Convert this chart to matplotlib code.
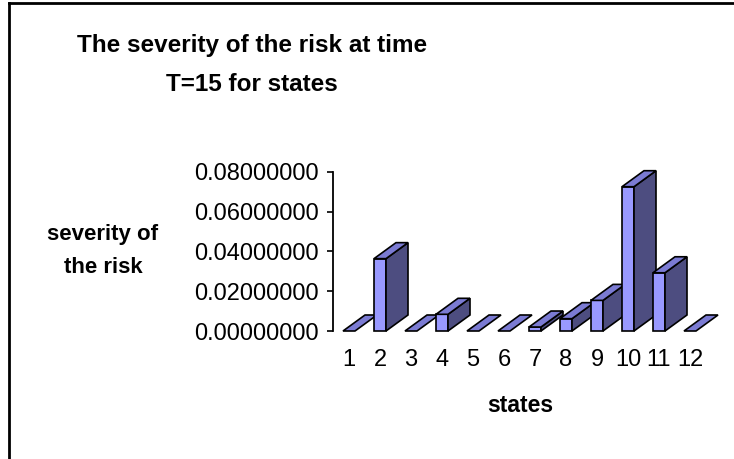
import numpy as np
import matplotlib
matplotlib.use('Agg')
from matplotlib import pyplot as plt
from matplotlib.patches import Polygon, Rectangle
from matplotlib.lines import Line2D

plt.rcParams['font.family'] = ['Liberation Sans', 'DejaVu Sans']

states = ['1', '2', '3', '4', '5', '6', '7', '8', '9', '10', '11', '12']
severity = [0.0, 0.0364, 0.0, 0.0084, 0.0, 0.0, 0.0020, 0.0062, 0.0154, 0.0726, 0.0293, 0.0]
yticks = [0.0, 0.02, 0.04, 0.06, 0.08]

W, H = 734, 459
fig = plt.figure(figsize = (W/100., H/100.), dpi = 100)
fig.patch.set_facecolor('white')

# axes box in pixels: left 333, right 725, top 172, bottom 331
ax = fig.add_axes([333./W, (H-331.)/H, 392./W, 159./H])
ax.set_xlim(1-16./31, 1+376./31)
ax.set_ylim(0, 0.08)
ax.patch.set_alpha(0)

front = '#9999FF'
side = '#4D4D80'
top = '#7B7BD3'
bw = 12./31
dx = 22./31
dy = 16./1987.5

x = np.arange(1, len(states)+1)
for i in range(len(states)):
    x0 = x[i]-bw/2
    v = severity[i]
    z = 3+i
    if v > 0:
        ax.add_patch(Rectangle((x0, 0), bw, v, facecolor = front, edgecolor = 'black', lw = 1.2, zorder = z, clip_on = False))
        ax.add_patch(Polygon([(x0+bw, 0), (x0+bw+dx, dy), (x0+bw+dx, v+dy), (x0+bw, v)], closed = True,
                             facecolor = side, edgecolor = 'black', lw = 1.2, zorder = z, clip_on = False))
    ax.add_patch(Polygon([(x0, v), (x0+bw, v), (x0+bw+dx, v+dy), (x0+dx, v+dy)], closed = True,
                         facecolor = top, edgecolor = 'black', lw = 1.2, zorder = z, clip_on = False, joinstyle = 'miter'))

for s in ['top', 'right', 'bottom']:
    ax.spines[s].set_visible(False)
ax.spines['left'].set_linewidth(1.3)
ax.set_yticks(yticks)
ax.set_yticklabels(['%.8f' % t for t in yticks], fontsize = 17)
ax.tick_params(axis = 'y', length = 4, width = 1.2, pad = 6.5)
ax.set_xticks(x)
ax.set_xticklabels(states, fontsize = 17)
ax.tick_params(axis = 'x', length = 0, pad = 13)

fig.text(252./W, 1-65./H, 'The severity of the risk at time\nT=15 for states', ha = 'center', va = 'center',
         fontsize = 17.5, fontweight = 'bold', linespacing = 1.85)
fig.text(103./W, 1-251./H, 'severity of\nthe risk', ha = 'center', va = 'center',
         fontsize = 16, fontweight = 'bold', linespacing = 1.75)
fig.text(520./W, 1-406./H, 'states', ha = 'center', va = 'center', fontsize = 16.5, fontweight = 'bold')

# chart frame: left and top edges only
fig.add_artist(Line2D([8.5/W, 8.5/W], [0, 1-2.5/H], transform = fig.transFigure, color = 'black', lw = 2))
fig.add_artist(Line2D([8.5/W, 1], [1-2.5/H, 1-2.5/H], transform = fig.transFigure, color = 'black', lw = 2))

fig.savefig('out.png', dpi = 100)
plt.close(fig)
